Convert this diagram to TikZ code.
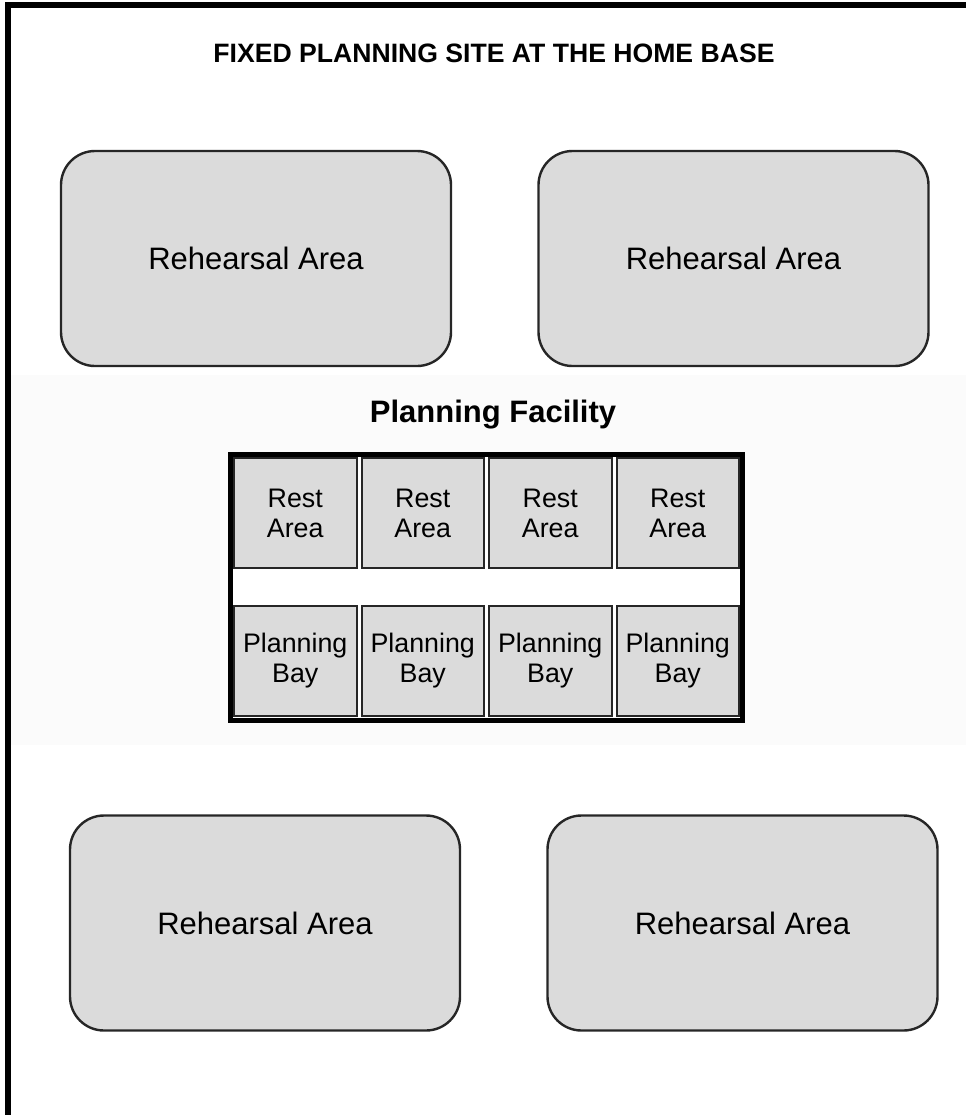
\documentclass[tikz,border=0pt]{standalone}
\usepackage{fontspec}
\setmainfont{Liberation Sans}

\tikzset{
  area/.style={draw=black!85, line width=1.2pt, fill=black!14, rounded corners=17pt,
    minimum width=195pt, minimum height=107.5pt, font=\fontsize{15.5}{18}\selectfont},
  cell/.style={draw=black!85, line width=1pt, fill=black!14, inner sep=0pt,
    minimum width=61.25pt, minimum height=55pt, align=center,
    font=\fontsize{13.4}{15}\selectfont},
}

\begin{document}
\begin{tikzpicture}[x=0.5pt, y=-0.5pt]
        \useasboundingbox (0,0) rectangle (966,1115);

        % Faint band behind the facility
        \fill[black!1.5] (11,375) rectangle (966,745);

        % Outer frame (top and left edges)
        \draw[line width=2.7pt] (8,1115) -- (8,5) -- (966,5);

        % Heading
        \node[font=\fontsize{13.3}{16}\selectfont\bfseries] (title) at (494,53)
            {FIXED PLANNING SITE AT THE HOME BASE};

        % Rehearsal areas
        \node[area] (rehTL) at (256,258.5) {Rehearsal Area};
        \node[area] (rehTR) at (733.5,258.5) {Rehearsal Area};
        \node[area] (rehBL) at (265,923) {Rehearsal Area};
        \node[area] (rehBR) at (742.5,923) {Rehearsal Area};

        % Planning facility
        \node[font=\fontsize{15.5}{18}\selectfont\bfseries, anchor=base] (facLabel) at (493,422)
            {Planning Facility};
        \node[draw, fill=white, line width=2.5pt, minimum width=256pt, minimum height=132.75pt]
            (facility) at (486.5,587.25) {};

        % Rest areas
        \node[cell] (rest1) at (295.25,513) {Rest\\Area};
        \node[cell] (rest2) at (422.75,513) {Rest\\Area};
        \node[cell] (rest3) at (550.25,513) {Rest\\Area};
        \node[cell] (rest4) at (677.75,513) {Rest\\Area};

        % Planning bays
        \node[cell] (bay1) at (295.25,661) {Planning\\Bay};
        \node[cell] (bay2) at (422.75,661) {Planning\\Bay};
        \node[cell] (bay3) at (550.25,661) {Planning\\Bay};
        \node[cell] (bay4) at (677.75,661) {Planning\\Bay};
\end{tikzpicture}
\end{document}
